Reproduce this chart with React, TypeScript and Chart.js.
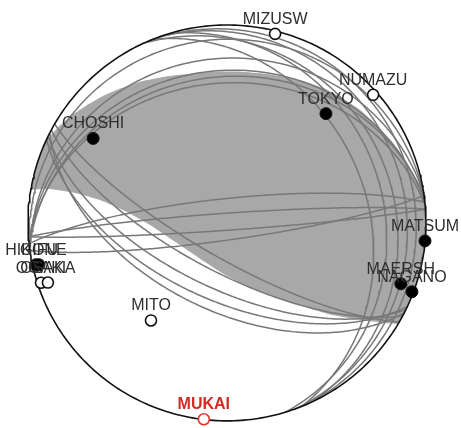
import React, { useEffect, useRef } from "react";
import { Chart, registerables } from "chart.js";

Chart.register(...registerables);

// ---- Station first-motion data (azimuth °, take-off angle °) ----
const stationNames = ["MIZUSW", "NUMAZU", "TOKYO", "CHOSHI", "MATSUM", "MAERSH", "NAGANO", "HIKONE", "GIFU", "OGAKI", "OSAKA", "MITO", "MUKAI"];
const stationAzimuth = [14.2, 48.6, 42.0, 302.4, 95.2, 109.4, 110.5, 257.6, 257.4, 252.1, 251.5, 217.8, 186.7];
const stationTakeoff = [88.3, 87.6, 63.4, 68.6, 89.9, 81.8, 89.1, 88.1, 86.4, 88.0, 84.3, 52.3, 89.8];
// C = compression (filled), D = dilatation (open)
const stationPolarity = ["D", "D", "C", "C", "C", "C", "C", "C", "C", "D", "D", "D", "D"];
const highlightedStation = "MUKAI";

// ---- Nodal planes (strike °, dip °), right-hand rule ----
const planeStrike = [263, 262, 264, 263, 265, 264, 266, 86, 82, 120, 118, 116, 115, 117, 337, 340, 335, 343, 338];
const planeDip = [8, 18, 24, 27, 30, 80, 86, 87, 83, 76, 70, 63, 58, 54, 6, 11, 17, 22, 30];

// ---- Compressional area outline (azimuth °, projected radius) ----
const grayUpperAz = [294.4, 299.6, 304.3, 309.5, 314.8, 321.6, 328.5, 337.1, 346.1, 355.5, 4.9, 14.2, 21.5, 28.8, 36.0, 43.6, 50.3, 57.3, 63.9, 70.1, 75.6, 80.2];
const grayUpperR = [1.0, 0.977, 0.955, 0.925, 0.899, 0.866, 0.837, 0.802, 0.776, 0.766, 0.767, 0.778, 0.794, 0.814, 0.838, 0.86, 0.882, 0.902, 0.924, 0.946, 0.97, 1.0];
const grayLowerAz = [120.6, 123.2, 126.7, 131.8, 136.7, 145.1, 160.5, 182.2, 216.9, 249.9, 268.5, 276.7, 280.3, 281.2, 280.9, 279.9];
const grayLowerR = [1.0, 0.919, 0.815, 0.694, 0.587, 0.466, 0.347, 0.262, 0.226, 0.278, 0.387, 0.516, 0.649, 0.779, 0.906, 1.0];

const D2R = Math.PI / 180;

function polar(azDeg: number, r: number) {
  return { x: r * Math.sin(azDeg * D2R), y: r * Math.cos(azDeg * D2R) };
}

// Lower-hemisphere equal-area projection of a ray with given take-off angle
function stationXY(az: number, takeoff: number) {
  const r = Math.SQRT2 * Math.sin((takeoff * D2R) / 2);
  return polar(az, r);
}

function greatCircle(strike: number, dip: number) {
  const s = strike * D2R;
  const dd = (strike + 90) * D2R;
  const d = dip * D2R;
  const S = [Math.sin(s), Math.cos(s), 0];
  const D = [Math.sin(dd) * Math.cos(d), Math.cos(dd) * Math.cos(d), Math.sin(d)];
  const pts: { x: number; y: number }[] = [];
  for (let l = 0; l <= 180; l += 1) {
    const lr = l * D2R;
    const v = [0, 1, 2].map((k) => Math.cos(lr) * S[k] + Math.sin(lr) * D[k]);
    const h = Math.hypot(v[0], v[1]);
    const r = Math.sqrt(Math.max(0, 1 - v[2]));
    pts.push(h < 1e-9 ? { x: 0, y: 0 } : { x: (r * v[0]) / h, y: (r * v[1]) / h });
  }
  return pts;
}

function boundaryArc(fromAz: number, toAz: number) {
  const pts: { x: number; y: number }[] = [];
  const steps = Math.max(2, Math.ceil(Math.abs(toAz - fromAz) / 2));
  for (let i = 1; i < steps; i++) pts.push(polar(fromAz + ((toAz - fromAz) * i) / steps, 1));
  return pts;
}

function grayOutline() {
  const pts: { x: number; y: number }[] = [];
  grayUpperAz.forEach((a, i) => pts.push(polar(a, grayUpperR[i])));
  pts.push(...boundaryArc(grayUpperAz[grayUpperAz.length - 1], grayLowerAz[0]));
  grayLowerAz.forEach((a, i) => pts.push(polar(a, grayLowerR[i])));
  pts.push(...boundaryArc(grayLowerAz[grayLowerAz.length - 1], grayUpperAz[0]));
  pts.push(polar(grayUpperAz[0], grayUpperR[0]));
  return pts;
}

function outerCircle() {
  const pts: { x: number; y: number }[] = [];
  for (let a = 0; a <= 360; a += 1) pts.push(polar(a, 1));
  return pts;
}

const FONT = '"Liberation Sans", Arial, Helvetica, sans-serif';

const labelPlugin = {
  id: "stationLabels",
  afterDatasetsDraw(chart: any) {
    const { ctx, scales } = chart;
    ctx.save();
    ctx.textAlign = "center";
    ctx.textBaseline = "alphabetic";
    stationNames.forEach((name, i) => {
      const p = stationXY(stationAzimuth[i], stationTakeoff[i]);
      const px = scales.x.getPixelForValue(p.x);
      const py = scales.y.getPixelForValue(p.y);
      const hl = name === highlightedStation;
      ctx.font = (hl ? "bold " : "") + "16px " + FONT;
      ctx.fillStyle = hl ? "#d42a22" : "#2e2e2e";
      ctx.fillText(name, px, py - 10);
    });
    ctx.restore();
  },
};

export default function App() {
  const ref = useRef<HTMLCanvasElement | null>(null);

  useEffect(() => {
    if (!ref.current) return;
    const stationPts = stationNames.map((_, i) => stationXY(stationAzimuth[i], stationTakeoff[i]));
    const planeSets = planeStrike.map((s, i) => ({
      type: "line" as const,
      data: greatCircle(s, planeDip[i]),
      borderColor: "#787878",
      borderWidth: 1.5,
      pointRadius: 0,
      fill: false,
      tension: 0,
      clip: false,
      order: 2,
    }));

    const chart = new Chart(ref.current, {
      type: "line",
      data: {
        datasets: [
          {
            data: stationPts,
            showLine: false,
            pointStyle: "circle",
            pointRadius: stationNames.map((n, i) => (stationPolarity[i] === "C" ? 6 : 5.5)),
            pointBorderWidth: stationNames.map((n, i) => (stationPolarity[i] === "C" ? 1 : 1.6)),
            pointBackgroundColor: stationNames.map((n, i) => (stationPolarity[i] === "C" ? "#000" : "#fff")),
            pointBorderColor: stationNames.map((n) => (n === highlightedStation ? "#e03a32" : "#111")),
            clip: false,
            order: 0,
          } as any,
          {
            data: outerCircle(),
            borderColor: "#111",
            borderWidth: 1.6,
            pointRadius: 0,
            fill: false,
            tension: 0,
            clip: false,
            order: 1,
          } as any,
          ...planeSets,
          {
            data: grayOutline(),
            borderColor: "#a8a8a8",
            borderWidth: 0,
            backgroundColor: "#a8a8a8",
            pointRadius: 0,
            fill: "shape",
            tension: 0.15,
            clip: false,
            order: 3,
          } as any,
        ],
      },
      options: {
        animation: false,
        responsive: false,
        devicePixelRatio: 1,
        layout: { padding: { left: 28, right: 35, top: 25, bottom: 5 } },
        scales: {
          x: { type: "linear", min: -1, max: 1, display: false },
          y: { type: "linear", min: -1, max: 1, display: false },
        },
        plugins: { legend: { display: false }, tooltip: { enabled: false } },
        events: [],
      } as any,
      plugins: [labelPlugin],
    });
    return () => chart.destroy();
  }, []);

  return (
    <div style={{ position: "fixed", left: 0, top: 0, width: 461, height: 428, background: "#fff" }}>
      <canvas ref={ref} width={461} height={428} style={{ width: 461, height: 428, display: "block" }} />
    </div>
  );
}
